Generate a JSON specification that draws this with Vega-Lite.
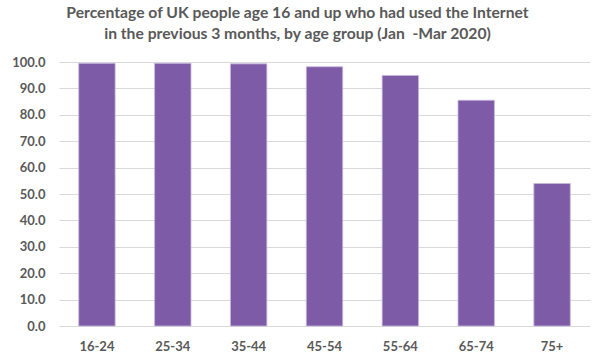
{
  "$schema": "https://vega.github.io/schema/vega-lite/v6.json",
  "width": 531,
  "height": 264,
  "autosize": {"type": "none"},
  "padding": {"left": 59, "top": 62, "right": 14, "bottom": 32},
  "background": "white",
  "title": {
    "text": ["Percentage of UK people age 16 and up who had used the Internet", "in the previous 3 months, by age group (Jan\u00a0\u00a0-Mar 2020)"],
    "font": "Lato",
    "fontSize": 15.7,
    "fontWeight": "bold",
    "color": "#595959",
    "anchor": "middle",
    "dx": -27,
    "offset": 13,
    "lineHeight": 21
  },
  "data": {
    "values": [
      {"age": "16-24", "pct": 99.5},
      {"age": "25-34", "pct": 99.5},
      {"age": "35-44", "pct": 99.3},
      {"age": "45-54", "pct": 98.2},
      {"age": "55-64", "pct": 94.9},
      {"age": "65-74", "pct": 85.5},
      {"age": "75+", "pct": 54.0}
    ]
  },
  "mark": {"type": "bar", "color": "#7E5BA7", "stroke": "#C9B8DE", "strokeWidth": 0.8},
  "encoding": {
    "x": {
      "field": "age",
      "type": "nominal",
      "sort": null,
      "scale": {"paddingInner": 0.52, "paddingOuter": 0.26},
      "axis": {
        "title": null,
        "labelAngle": 0,
        "labelFont": "Lato",
        "labelFontSize": 13,
        "labelFontWeight": "bold",
        "labelColor": "#595959",
        "labelPadding": 14,
        "ticks": false,
        "domain": false,
        "grid": false
      }
    },
    "y": {
      "field": "pct",
      "type": "quantitative",
      "scale": {"domain": [0, 100], "nice": false},
      "axis": {
        "title": null,
        "values": [0, 10, 20, 30, 40, 50, 60, 70, 80, 90, 100],
        "format": ".1f",
        "labelFont": "Lato",
        "labelFontSize": 13,
        "labelFontWeight": "bold",
        "labelColor": "#595959",
        "labelPadding": 14,
        "ticks": false,
        "domain": false,
        "grid": true,
        "gridColor": "#D9D9D9",
        "gridWidth": 1
      }
    }
  },
  "config": {"view": {"stroke": null}}
}
